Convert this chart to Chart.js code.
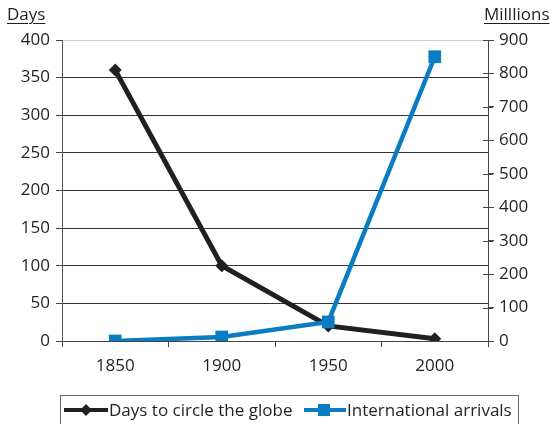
<!DOCTYPE html>
<html>
<head>
<meta charset="utf-8">
<script src="https://cdn.jsdelivr.net/npm/chart.js@4.4.1/dist/chart.umd.min.js"></script>
<style>
  html, body { margin: 0; padding: 0; background: #fff; }
  #wrap { position: relative; width: 554px; height: 424px; font-family: "Open Sans", sans-serif; color: #231f20; }
  canvas { position: absolute; left: 0; top: 0; }
  .axt { position: absolute; font-size: 17px; text-decoration: underline; text-underline-offset: 3px; text-decoration-thickness: 1px; }
  #legend { position: absolute; left: 60px; top: 395px; width: 459px; height: 40px; border: 1px solid #666; box-sizing: border-box; }
  .item { position: absolute; top: 3px; font-size: 17px; line-height: 22px; display: flex; align-items: center; white-space: nowrap; }
  .item svg { margin-right: 1px; }
</style>
</head>
<body>
<div id="wrap">
  <canvas id="c" width="554" height="424"></canvas>
  <div class="axt" style="left:7px; top:2px;">Days</div>
  <div class="axt" style="left:484px; top:2px;">Milllions</div>
  <div id="legend">
    <div class="item" style="left:3px;">
      <svg width="44" height="14"><line x1="0" y1="7" x2="44" y2="7" stroke="#231f20" stroke-width="4"/><polygon points="22,1 28,7 22,13 16,7" fill="#231f20"/></svg>Days to circle the globe
    </div>
    <div class="item" style="left:243px;">
      <svg width="42" height="14"><line x1="0" y1="7" x2="42" y2="7" stroke="#0a7dc2" stroke-width="4"/><rect x="14" y="1" width="12" height="12" fill="#0a7dc2"/></svg>International arrivals
    </div>
  </div>
</div>
<script>
// Years along the bottom axis
const years = ['1850', '1900', '1950', '2000'];
// Days needed to travel around the world (left axis)
const daysToCircle = [360, 100, 20, 3];
// International tourist arrivals, millions (right axis)
const arrivalsMillions = [0, 12, 57, 850];

const BLACK = '#231f20';
const BLUE = '#0a7dc2';
const TICK_FONT = { family: 'Open Sans', size: 17 };

// Short tick marks crossing the right axis line
const rightTicks = {
  id: 'rightTicks',
  afterDraw(chart) {
    const s = chart.scales.yR;
    const ctx = chart.ctx;
    ctx.save();
    ctx.strokeStyle = '#444';
    ctx.lineWidth = 1;
    s.ticks.forEach(t => {
      const y = Math.round(s.getPixelForValue(t.value)) + 0.5;
      ctx.beginPath();
      ctx.moveTo(s.left - 5, y);
      ctx.lineTo(s.left + 5, y);
      ctx.stroke();
    });
    ctx.restore();
  }
};

new Chart(document.getElementById('c'), {
  type: 'line',
  data: {
    labels: years,
    datasets: [
      {
        label: 'Days to circle the globe',
        data: daysToCircle,
        yAxisID: 'yL',
        borderColor: BLACK,
        backgroundColor: BLACK,
        borderWidth: 5,
        pointStyle: 'rectRot',
        pointRadius: 6.5,
        pointBorderWidth: 0,
        tension: 0,
        order: 1
      },
      {
        label: 'International arrivals',
        data: arrivalsMillions,
        yAxisID: 'yR',
        borderColor: BLUE,
        backgroundColor: BLUE,
        borderWidth: 4.5,
        pointStyle: 'rect',
        pointRadius: 9,
        pointBorderWidth: 0,
        tension: 0,
        order: 0
      }
    ]
  },
  options: {
    responsive: false,
    animation: false,
    devicePixelRatio: 1,
    layout: { padding: { top: 40, left: 0, right: 0, bottom: 0 } },
    plugins: { legend: { display: false }, tooltip: { enabled: false } },
    scales: {
      x: {
        offset: true,
        grid: { offset: true, drawOnChartArea: false, color: '#444', tickLength: 6 },
        border: { color: '#444', width: 1 },
        ticks: { color: BLACK, font: TICK_FONT, padding: 9 },
        afterFit(s) { s.height = 83; }
      },
      yL: {
        position: 'left',
        min: 0, max: 400,
        ticks: { stepSize: 50, color: BLACK, font: TICK_FONT, padding: 6 },
        grid: {
          color: c => (c.tick && c.tick.value === 400) ? '#d0d0d0' : '#333',
          tickColor: '#444',
          tickLength: 6
        },
        border: { color: '#555', width: 1 },
        afterFit(s) { s.width = 62; }
      },
      yR: {
        position: 'right',
        min: 0, max: 900,
        ticks: { stepSize: 100, color: BLACK, font: TICK_FONT, padding: 5 },
        grid: { drawOnChartArea: false, drawTicks: true, tickLength: 6, color: '#444' },
        border: { color: '#444', width: 1 },
        afterFit(s) { s.width = 66; }
      }
    }
  },
  plugins: [rightTicks]
});
</script>
</body>
</html>
